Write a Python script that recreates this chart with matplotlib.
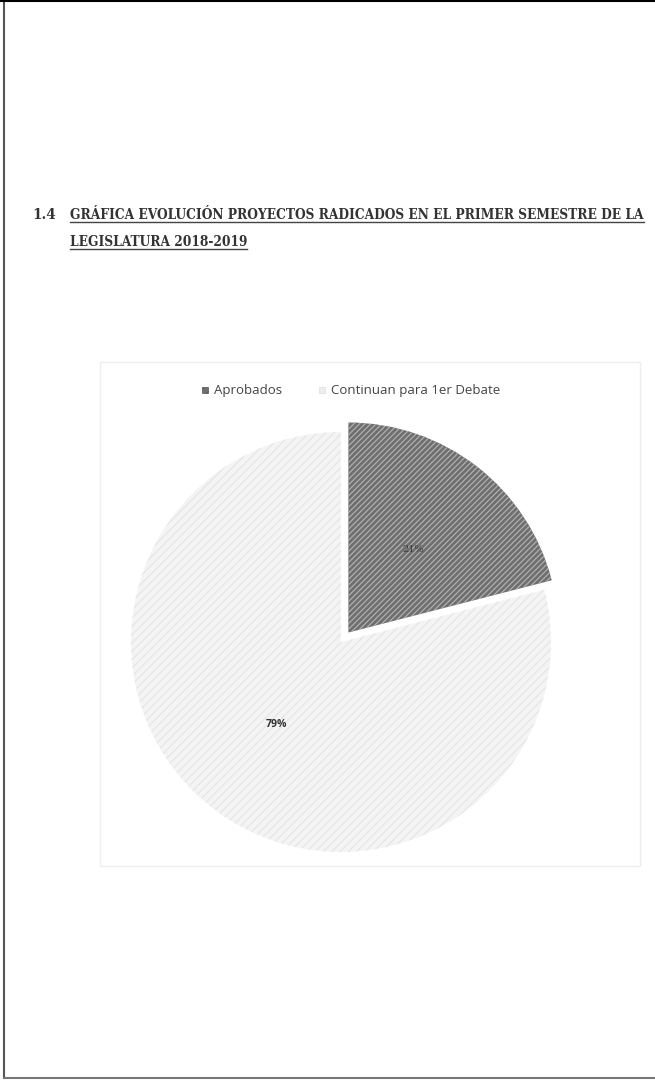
import matplotlib
matplotlib.use("Agg")
import matplotlib.pyplot as plt
from matplotlib.patches import Rectangle
from matplotlib.lines import Line2D

# ---- data ----
categories = ["Aprobados", "Continuan para 1er Debate"]
values = [21, 79]
title_num = "1.4"
title_lines = ["GRÁFICA EVOLUCIÓN PROYECTOS RADICADOS EN EL PRIMER SEMESTRE DE LA",
               "LEGISLATURA 2018-2019"]

W, H = 655, 1081
fig = plt.figure(figsize=(W / 100, H / 100), dpi=100)
fig.patch.set_facecolor("white")

def fx(px):
    return px / W

def fy(py):
    return 1 - py / H

# page border
fig.add_artist(Line2D([fx(4), fx(4)], [fy(0), fy(1078)], color="#555555", lw=1.5))
fig.add_artist(Line2D([fx(0), fx(655)], [fy(1), fy(1)], color="black", lw=1.5))
fig.add_artist(Line2D([fx(4), fx(655)], [fy(1078), fy(1078)], color="#777777", lw=1.5))

# title
tfont = dict(family="DejaVu Serif", fontweight="bold", fontstretch="condensed",
             color="#333333")
fig.text(fx(32), fy(219), title_num, fontsize=11, va="baseline", ha="left", **tfont)
t1 = fig.text(fx(70), fy(219), title_lines[0], fontsize=9.8, va="baseline", ha="left", **tfont)
t2 = fig.text(fx(70), fy(246), title_lines[1], fontsize=9.8, va="baseline", ha="left", **tfont)
fig.canvas.draw()
r = fig.canvas.get_renderer()
for t, yb in [(t1, 222), (t2, 249)]:
    bb = t.get_window_extent(r)
    fig.add_artist(Line2D([bb.x0 / W, bb.x1 / W], [fy(yb), fy(yb)], color="#444444", lw=1.0))

# faint chart area frame
fig.add_artist(Rectangle((fx(100), fy(866)), fx(640) - fx(100), fy(362) - fy(866),
                         fill=False, edgecolor="#eeeeee", lw=1.0))

# pie axes
cx, cy = 341, 642
half = 250
ax = fig.add_axes([fx(cx - half), fy(cy + half), 2 * half / W, 2 * half / H])
ax.set_xlim(-1.25, 1.25)
ax.set_ylim(-1.25, 1.25)
ax.set_aspect("equal")
ax.axis("off")

plt.rcParams["hatch.linewidth"] = 0.8
wedges, texts, autotexts = ax.pie(
    values, startangle=90, counterclock=False, radius=1.05,
    explode=[0.06, 0.0], autopct="%1.0f%%", pctdistance=0.5,
    colors=["#6f6f6f", "#f4f4f4"],
    wedgeprops=dict(linewidth=0),
)
wedges[0].set_hatch("//////")
wedges[0].set_edgecolor("#b5b5b5")
wedges[0].set_linewidth(0)
wedges[1].set_hatch("////")
wedges[1].set_edgecolor("#e4e4e4")
wedges[1].set_linewidth(0)

autotexts[0].set_fontsize(7)
autotexts[0].set_color("#3a3a3a")
autotexts[0].set_family("DejaVu Serif")
autotexts[1].set_fontsize(7.5)
autotexts[1].set_color("#333333")
autotexts[1].set_fontweight("bold")
autotexts[1].set_family("Open Sans")

# legend
lfont = dict(family="Open Sans", fontsize=9.5, color="#444444", va="center", ha="left")
fig.add_artist(Rectangle((fx(202), fy(393)), 6 / W, 6 / H, facecolor="#6f6f6f",
                         edgecolor="#555555", lw=0.5, hatch="////"))
fig.text(fx(214), fy(390), categories[0], **lfont)
fig.add_artist(Rectangle((fx(319), fy(393)), 6 / W, 6 / H, facecolor="#eeeeee",
                         edgecolor="#dddddd", lw=0.5))
fig.text(fx(331), fy(390), categories[1], **lfont)

fig.savefig("out.png", dpi=100)
